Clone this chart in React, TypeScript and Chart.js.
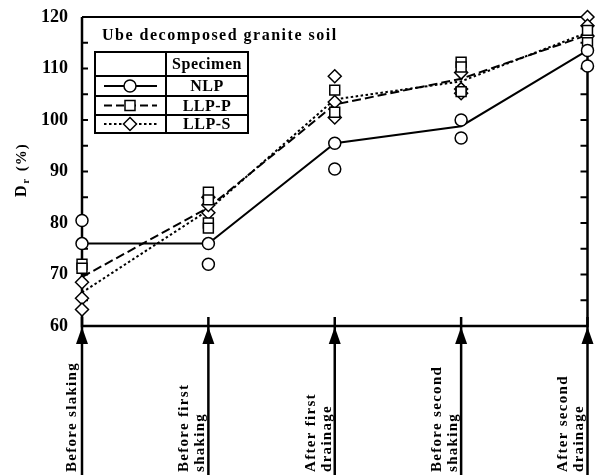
import React, { useEffect, useRef } from "react";
import { Chart, registerables } from "chart.js";
Chart.register(...registerables);

const FONT = "'Liberation Serif', 'Times New Roman', serif";

// Stages (x categories), each possibly split over two lines
const categories: string[][] = [
  ["Before slaking"],
  ["Before first", "shaking"],
  ["After first", "drainage"],
  ["Before second", "shaking"],
  ["After second", "drainage"],
];

const yMin = 60;
const yMax = 120;
const yStep = 10;

const seriesNames = ["NLP", "LLP-P", "LLP-S"];

// Mean lines
const nlpMean = [76, 76, 95.5, 98.8, 113.5];
const llpPMean = [69.5, 83, 103, 108, 116.5];
const llpSMean = [66.5, 82.5, 104, 107.5, 117];

// Individual measurements per stage
const nlpPoints = [[80.5, 76], [76, 72], [95.5, 90.5], [100, 96.5], [113.5, 110.5]];
const llpPPoints = [[72, 71.2], [86, 84.5, 80, 79], [105.8, 101.5], [111.2, 110.3, 105.5], [117.4, 115]];
const llpSPoints = [[68.5, 65.4, 63.2], [85, 82, 83.5], [108.5, 103.5, 100.5], [109.2, 106, 105.2], [120, 118.3, 116.3]];

const title = "Ube decomposed granite soil";

const toXY = (vals: number[]) => vals.map((v, i) => ({ x: i, y: v }));
const flatXY = (groups: number[][]) =>
  groups.flatMap((g, i) => g.map((v) => ({ x: i, y: v })));

function drawMarker(ctx: CanvasRenderingContext2D, style: string, x: number, y: number) {
  ctx.save();
  ctx.fillStyle = "#fff";
  ctx.strokeStyle = "#000";
  ctx.lineWidth = 1.5;
  ctx.setLineDash([]);
  ctx.beginPath();
  if (style === "circle") ctx.arc(x, y, 6, 0, Math.PI * 2);
  else if (style === "rect") ctx.rect(x - 5, y - 5, 10, 10);
  else {
    ctx.moveTo(x, y - 6.5);
    ctx.lineTo(x + 6.5, y);
    ctx.lineTo(x, y + 6.5);
    ctx.lineTo(x - 6.5, y);
    ctx.closePath();
  }
  ctx.fill();
  ctx.stroke();
  ctx.restore();
}

const decor = {
  id: "decor",
  beforeDatasetsDraw(chart: any) {
    const { ctx, chartArea: a, scales } = chart;
    const xs = scales.x;
    const ys = scales.y;
    ctx.save();
    ctx.strokeStyle = "#000";
    ctx.fillStyle = "#000";
    ctx.setLineDash([]);
    // frame
    ctx.lineWidth = 2.5;
    ctx.beginPath();
    ctx.moveTo(a.left, a.top);
    ctx.lineTo(a.left, a.bottom);
    ctx.lineTo(a.right, a.bottom);
    ctx.lineTo(a.right, a.top);
    ctx.stroke();
    ctx.lineWidth = 2;
    ctx.beginPath();
    ctx.moveTo(a.left, a.top);
    ctx.lineTo(a.right, a.top);
    ctx.stroke();
    // inward ticks every 5
    ctx.lineWidth = 2;
    for (let v = yMin + 5; v < yMax; v += 5) {
      const py = ys.getPixelForValue(v);
      ctx.beginPath();
      ctx.moveTo(a.left, py);
      ctx.lineTo(a.left + 6, py);
      ctx.moveTo(a.right, py);
      ctx.lineTo(a.right - 7, py);
      ctx.stroke();
    }
    // arrows and stage labels
    const H = chart.height;
    categories.forEach((lines, i) => {
      const px = xs.getPixelForValue(i);
      ctx.lineWidth = 2.5;
      ctx.beginPath();
      ctx.moveTo(px, H);
      ctx.lineTo(px, a.bottom - 9);
      ctx.stroke();
      ctx.beginPath();
      ctx.moveTo(px, a.bottom + 1);
      ctx.lineTo(px + 6, a.bottom + 18);
      ctx.lineTo(px - 6, a.bottom + 18);
      ctx.closePath();
      ctx.fill();
      ctx.font = `bold 15px ${FONT}`;
      (ctx as any).letterSpacing = "1.3px";
      ctx.textAlign = "left";
      ctx.textBaseline = "middle";
      const offs = lines.length === 1 ? [-10] : [-24, -8];
      lines.forEach((t, k) => {
        ctx.save();
        ctx.translate(px + offs[k], H - 3);
        ctx.rotate(-Math.PI / 2);
        ctx.fillText(t, 0, 0);
        ctx.restore();
      });
    });
    ctx.restore();
  },
  afterDraw(chart: any) {
    const { ctx } = chart;
    ctx.save();
    ctx.fillStyle = "#000";
    ctx.strokeStyle = "#000";
    ctx.setLineDash([]);
    // title
    ctx.font = `bold 16px ${FONT}`;
    (ctx as any).letterSpacing = "1.5px";
    ctx.textAlign = "left";
    ctx.textBaseline = "middle";
    ctx.fillText(title, 102, 36);
    // y axis title D_r (%)
    ctx.save();
    ctx.translate(22, 197);
    ctx.rotate(-Math.PI / 2);
    (ctx as any).letterSpacing = "1px";
    ctx.textAlign = "left";
    ctx.textBaseline = "middle";
    ctx.font = `bold 16px ${FONT}`;
    ctx.fillText("D", 0, 0);
    let w = ctx.measureText("D").width + 1;
    ctx.font = `bold 10px ${FONT}`;
    ctx.fillText("r", w, 4);
    w += ctx.measureText("r").width + 2;
    ctx.font = `bold 15px ${FONT}`;
    ctx.fillText(" (%)", w, 0);
    ctx.restore();
    // legend table
    const L = 95, R = 248, C = 166;
    const rows = [52, 76, 96, 115, 133];
    ctx.lineWidth = 2;
    ctx.strokeRect(L, rows[0], R - L, rows[4] - rows[0]);
    ctx.beginPath();
    for (let r = 1; r < 4; r++) {
      ctx.moveTo(L, rows[r]);
      ctx.lineTo(R, rows[r]);
    }
    ctx.moveTo(C, rows[0]);
    ctx.lineTo(C, rows[4]);
    ctx.stroke();
    ctx.font = `bold 16px ${FONT}`;
    (ctx as any).letterSpacing = "0.5px";
    ctx.textAlign = "center";
    ctx.textBaseline = "middle";
    ctx.fillText("Specimen", (C + R) / 2, (rows[0] + rows[1]) / 2 + 1);
    const styles = ["circle", "rect", "diamond"];
    const dashes = [[], [8, 4], [2.5, 2.5]];
    seriesNames.forEach((n, k) => {
      const cy = (rows[k + 1] + rows[k + 2]) / 2;
      ctx.fillText(n, (C + R) / 2, cy + 1);
      ctx.save();
      ctx.lineWidth = 2;
      ctx.setLineDash(dashes[k]);
      ctx.beginPath();
      ctx.moveTo(104, cy);
      ctx.lineTo(157, cy);
      ctx.stroke();
      ctx.restore();
      drawMarker(ctx, styles[k], 130, cy);
    });
    ctx.restore();
  },
};

export default function App() {
  const ref = useRef<HTMLCanvasElement>(null);
  useEffect(() => {
    const pointBase = {
      showLine: false,
      pointBackgroundColor: "#fff",
      pointBorderColor: "#000",
      pointBorderWidth: 1.5,
      clip: false as any,
      order: 1,
    };
    const lineBase = {
      borderColor: "#000",
      borderWidth: 2,
      pointRadius: 0,
      fill: false,
      tension: 0,
      clip: false as any,
      order: 2,
    };
    const chart = new Chart(ref.current!, {
      type: "line",
      data: {
        datasets: [
          { ...lineBase, label: seriesNames[0], data: toXY(nlpMean) },
          { ...lineBase, label: seriesNames[1], data: toXY(llpPMean), borderDash: [9, 4] },
          { ...lineBase, label: seriesNames[2], data: toXY(llpSMean), borderDash: [2.5, 2.5] },
          { ...pointBase, label: seriesNames[0] + " pts", data: flatXY(nlpPoints), pointStyle: "circle", pointRadius: 6 },
          { ...pointBase, label: seriesNames[1] + " pts", data: flatXY(llpPPoints), pointStyle: "rect", pointRadius: 7 },
          { ...pointBase, label: seriesNames[2] + " pts", data: flatXY(llpSPoints), pointStyle: "rectRot", pointRadius: 6.5 },
        ] as any,
      },
      options: {
        animation: false,
        responsive: true,
        maintainAspectRatio: false,
        layout: { padding: { top: 17, right: 5, bottom: 149, left: 0 } },
        plugins: { legend: { display: false }, tooltip: { enabled: false } },
        scales: {
          x: {
            type: "linear",
            min: 0,
            max: categories.length - 1,
            display: false,
          },
          y: {
            min: yMin,
            max: yMax,
            grid: { display: false, drawTicks: false },
            border: { display: false },
            ticks: {
              stepSize: yStep,
              padding: 14,
              color: "#000",
              font: { family: FONT, size: 18, weight: "bold" },
            },
            afterFit: (s: any) => {
              s.width = 82;
              s.paddingTop = 0;
              s.paddingBottom = 0;
            },
          },
        },
      },
      plugins: [decor],
    });
    return () => chart.destroy();
  }, []);
  return (
    <div style={{ position: "fixed", left: 0, top: 0, width: 596, height: 475, background: "#fff" }}>
      <canvas ref={ref} />
    </div>
  );
}
